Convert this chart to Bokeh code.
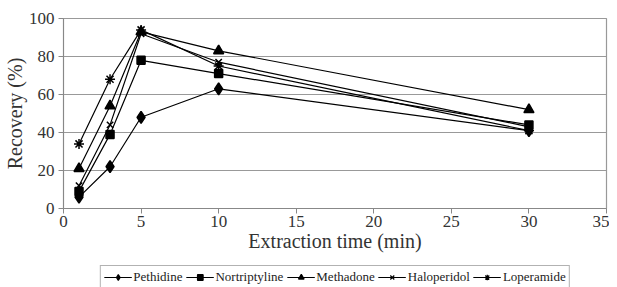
from bokeh.plotting import figure
from bokeh.models import Legend, LegendItem, FixedTicker
from bokeh.layouts import column
from bokeh.embed import file_html
from bokeh.resources import INLINE

time_min = [1, 3, 5, 10, 30]
pethidine = [6, 22, 48, 63, 41]
nortriptyline = [9, 39, 78, 71, 44]
methadone = [21, 54, 93, 83, 52]
haloperidol = [12, 44, 92, 77, 43]
loperamide = [34, 68, 94, 75, 41]

series = [
    ("Pethidine", pethidine, "diamond", 12),
    ("Nortriptyline", nortriptyline, "square", 8),
    ("Methadone", methadone, "triangle", 10),
    ("Haloperidol", haloperidol, "x", 9),
    ("Loperamide", loperamide, "asterisk", 10),
]

FONT = "Liberation Serif"

p = figure(frame_width=543, frame_height=190, x_range=(0, 35), y_range=(0, 100),
           output_backend="svg", toolbar_location=None,
           min_border_left=63, min_border_right=3, min_border_top=18, min_border_bottom=56)

for name, vals, marker, size in series:
    p.line(time_min, vals, line_color="black", line_width=1.2)
    p.scatter(time_min, vals, marker=marker, size=size, fill_color="black",
              line_color="black", line_width=1.5)

p.xaxis.ticker = FixedTicker(ticks=[0, 5, 10, 15, 20, 25, 30, 35])
p.yaxis.ticker = FixedTicker(ticks=[0, 20, 40, 60, 80, 100])
for ax in (p.xaxis[0], p.yaxis[0]):
    ax.major_tick_in = 0
    ax.major_tick_out = 5
    ax.minor_tick_line_color = None
    ax.axis_line_color = "#888888"
    ax.major_tick_line_color = "#888888"
    ax.major_label_text_font = FONT
    ax.major_label_text_font_size = "17px"
    ax.major_label_text_color = "#333333"
    ax.axis_label_text_font = FONT
    ax.axis_label_text_font_size = "20px"
    ax.axis_label_text_font_style = "normal"
    ax.axis_label_text_color = "#333333"
p.xaxis.axis_label = "Extraction time (min)"
p.yaxis.axis_label = "Recovery (%)"
p.xaxis.axis_label_standoff = 0
p.yaxis.axis_label_standoff = 0
p.xaxis.major_label_standoff = 2
p.yaxis.major_label_standoff = 4

p.xgrid.grid_line_color = None
p.ygrid.grid_line_color = "#999999"
p.ygrid.grid_line_width = 1.2
p.outline_line_color = "#999999"
p.outline_line_width = 1.2

# Legend strip below the chart: same series drawn out of view, only the legend shows
lg = figure(width=609, height=26, x_range=(100, 200), y_range=(200, 300),
            output_backend="svg", toolbar_location=None,
            x_axis_location=None, y_axis_location=None,
            min_border_left=0, min_border_right=0, min_border_top=0, min_border_bottom=0)
lg.xgrid.grid_line_color = None
lg.ygrid.grid_line_color = None
lg.outline_line_color = None

items = []
for name, vals, marker, size in series:
    ln = lg.line(time_min, vals, line_color="black", line_width=1.2)
    sc = lg.scatter(time_min, vals, marker=marker, size=min(size, 9), fill_color="black",
                    line_color="black", line_width=1.2)
    items.append(LegendItem(label=name, renderers=[ln, sc]))

legend = Legend(items=items, orientation="horizontal", location="center",
                glyph_width=28, glyph_height=14, label_standoff=2, spacing=3,
                padding=3, margin=0, border_line_color="#666666",
                label_text_font=FONT, label_text_font_size="13px",
                label_text_color="#222222", background_fill_alpha=1)
lg.add_layout(legend, "center")

layout = column(p, lg, spacing=0)
open("out.html", "w").write(file_html(layout, INLINE))
